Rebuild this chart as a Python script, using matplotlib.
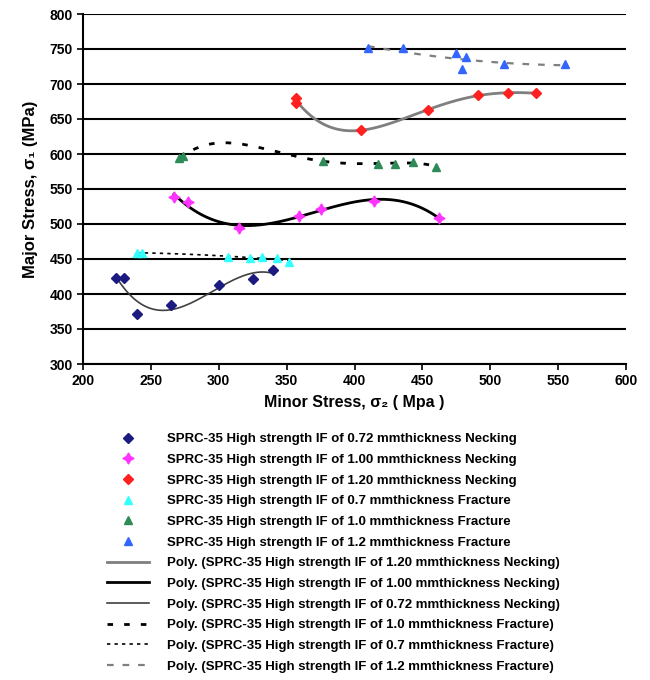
import numpy as np
import matplotlib
matplotlib.use("Agg")
import matplotlib.pyplot as plt
from matplotlib.lines import Line2D

plt.rcParams['font.family'] = ['Liberation Sans', 'DejaVu Sans']

# ---- data ----
n072_x = [224, 230, 240, 265, 300, 325, 340]
n072_y = [423, 423, 372, 384, 413, 421, 434]

n100_x = [267, 277, 315, 359, 375, 414, 462]
n100_y = [539, 532, 494, 511, 522, 533, 509]

n120_x = [357, 357, 405, 454, 491, 513, 534]
n120_y = [680, 673, 634, 663, 684, 687, 687]

f07_x = [240, 243.5, 307, 323, 332, 343, 352]
f07_y = [459, 459, 453, 451, 453, 451, 446]

f10_x = [271, 274, 377, 417, 430, 443, 460]
f10_y = [594, 597, 590, 586, 586, 589, 582]

f12_x = [410, 435.5, 475, 479, 482, 510, 555]
f12_y = [751, 751, 744, 722, 739, 728, 728]

x_ticks = [200, 250, 300, 350, 400, 450, 500, 550, 600]
y_ticks = [300, 350, 400, 450, 500, 550, 600, 650, 700, 750, 800]

labels_pts = [
    "SPRC-35 High strength IF of 0.72 mmthickness Necking",
    "SPRC-35 High strength IF of 1.00 mmthickness Necking",
    "SPRC-35 High strength IF of 1.20 mmthickness Necking",
    "SPRC-35 High strength IF of 0.7 mmthickness Fracture",
    "SPRC-35 High strength IF of 1.0 mmthickness Fracture",
    "SPRC-35 High strength IF of 1.2 mmthickness Fracture",
]
labels_fit = [
    "Poly. (SPRC-35 High strength IF of 1.20 mmthickness Necking)",
    "Poly. (SPRC-35 High strength IF of 1.00 mmthickness Necking)",
    "Poly. (SPRC-35 High strength IF of 0.72 mmthickness Necking)",
    "Poly. (SPRC-35 High strength IF of 1.0 mmthickness Fracture)",
    "Poly. (SPRC-35 High strength IF of 0.7 mmthickness Fracture)",
    "Poly. (SPRC-35 High strength IF of 1.2 mmthickness Fracture)",
]

fig = plt.figure(figsize=(6.5, 6.8), dpi=100)
ax = fig.add_axes([83/650, 1-364/680, 543/650, 350/680])

def trend(x, y, order):
    c = np.polyfit(x, y, order)
    xs = np.linspace(min(x), max(x), 200)
    return xs, np.polyval(c, xs)

# trend lines
fit_styles = [
    (n120_x, n120_y, 4, dict(color='#7f7f7f', lw=2.0, ls='-')),
    (n100_x, n100_y, 3, dict(color='black', lw=2.0, ls='-')),
    (n072_x, n072_y, 3, dict(color='#404040', lw=1.2, ls='-')),
    (f10_x, f10_y, 4, dict(color='black', lw=2.0, ls=(0, (2, 4)))),
    (f07_x, f07_y, 2, dict(color='black', lw=1.2, ls=(0, (2, 2.5)))),
    (f12_x, f12_y, 2, dict(color='#7f7f7f', lw=1.6, ls=(0, (3, 4)))),
]
fit_handles = []
for x, y, o, st in fit_styles:
    xs, ys = trend(x, y, o)
    ax.plot(xs, ys, zorder=3, **st)
    fit_handles.append(Line2D([], [], **st))

# points
pt_styles = [
    (n072_x, n072_y, dict(marker='D', color='#1a1a80', ms=5)),
    (n100_x, n100_y, dict(marker=(4, 1, 0), color='#ff33ff', ms=8)),
    (n120_x, n120_y, dict(marker='D', color='#ff2020', ms=5)),
    (f07_x, f07_y, dict(marker='^', color='#33ffff', ms=6)),
    (f10_x, f10_y, dict(marker='^', color='#2e8b57', ms=6)),
    (f12_x, f12_y, dict(marker='^', color='#3366ff', ms=6)),
]
pt_handles = []
for x, y, st in pt_styles:
    ax.plot(x, y, ls='none', zorder=4, **st)
    pt_handles.append(Line2D([], [], ls='none', **st))

ax.set_xlim(200, 600)
ax.set_ylim(300, 800)
ax.set_xticks(x_ticks)
ax.set_yticks(y_ticks)
ax.tick_params(axis='both', labelsize=10, direction='out', length=4, width=1.2)
for lab in ax.get_xticklabels() + ax.get_yticklabels():
    lab.set_fontweight('bold')
ax.yaxis.grid(True, color='black', lw=1.5)
ax.set_axisbelow(True)
ax.spines['top'].set_visible(False)
ax.spines['right'].set_visible(False)
ax.spines['left'].set_linewidth(1.5)
ax.spines['bottom'].set_linewidth(1.5)

ax.set_xlabel("Minor Stress, σ₂ ( Mpa )", fontsize=11.5, fontweight='bold', labelpad=5)
ax.set_ylabel("Major Stress, σ₁ (MPa)", fontsize=12, fontweight='bold', labelpad=8)

fig.legend(pt_handles + fit_handles, labels_pts + labels_fit,
           loc='upper left', bbox_to_anchor=(107/650, 1-433/680),
           frameon=False, prop={'size': 9.5, 'weight': 'bold'},
           labelspacing=0.64, handlelength=3.2, handletextpad=1.35,
           borderaxespad=0, borderpad=0)

fig.savefig("out.png", dpi=100)
